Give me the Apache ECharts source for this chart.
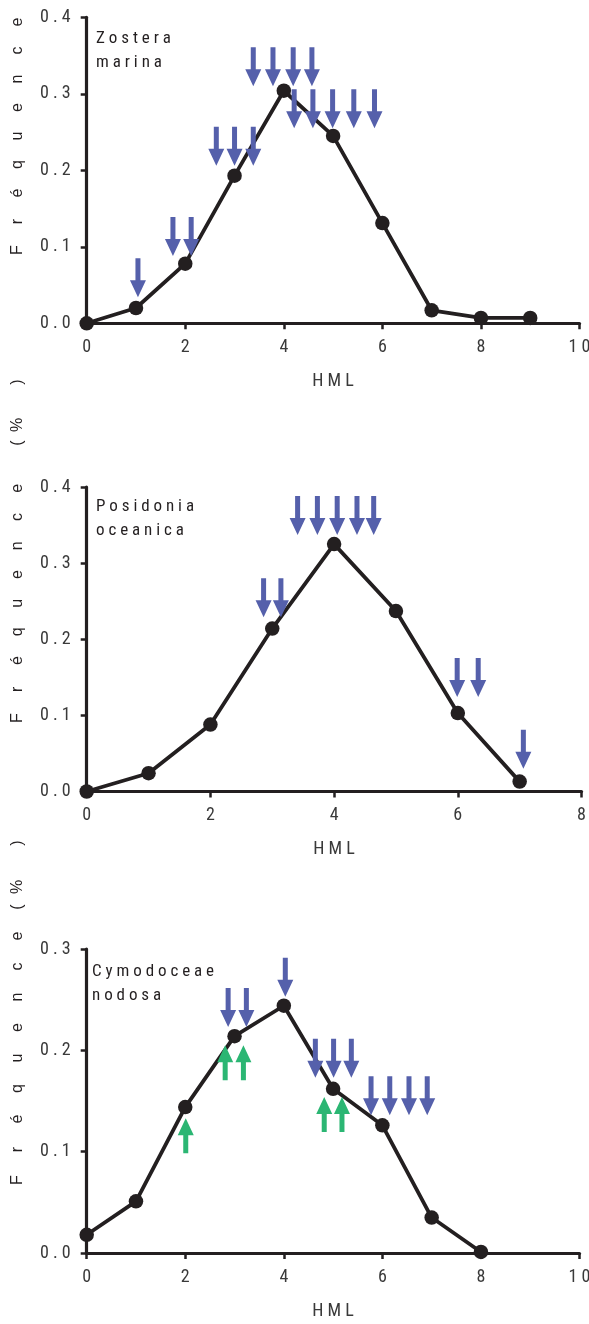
<!DOCTYPE html>
<html><head><meta charset="utf-8">
<script src="https://cdn.jsdelivr.net/npm/echarts@6/dist/echarts.min.js"></script>
<style>html,body{margin:0;padding:0;background:#fff}#c{width:589px;height:1324px}</style>
</head><body><div id="c"></div>
<script>
// ---- data ----
const hmlZostera = [0,1,2,3,4,5,6,7,8,9];
const freqZostera = [0.0,0.020,0.078,0.193,0.304,0.245,0.131,0.017,0.007,0.007];
const downZostera = [[1.04,0.034],[1.75,0.088],[2.12,0.088],[2.63,0.206],[3.00,0.206],[3.38,0.206],
  [3.38,0.310],[3.78,0.310],[4.19,0.310],[4.57,0.310],
  [4.21,0.255],[4.59,0.255],[4.99,0.255],[5.42,0.255],[5.84,0.255]];

const hmlPosidonia = [0,1,2,3,4,5,6,7];
const freqPosidonia = [0.0,0.024,0.088,0.214,0.325,0.237,0.103,0.013];
const downPosidonia = [[3.41,0.337],[3.73,0.337],[4.05,0.337],[4.37,0.337],[4.64,0.337],
  [2.86,0.229],[3.14,0.229],[5.99,0.124],[6.33,0.124],[7.06,0.030]];

const hmlCymodocea = [0,1,2,3,4,5,6,7,8];
const freqCymodocea = [0.018,0.051,0.144,0.214,0.244,0.162,0.126,0.035,0.001];
const downCymodocea = [[4.03,0.253],[2.87,0.223],[3.24,0.223],[4.64,0.173],[5.01,0.173],[5.37,0.173],
  [5.77,0.136],[6.15,0.136],[6.54,0.136],[6.91,0.136]];
const upCymodocea = [[2.01,0.133],[2.81,0.205],[3.18,0.205],[4.82,0.154],[5.18,0.154]];

const speciesNames = [['Zostera','marina'],['Posidonia','oceanica'],['Cymodoceae','nodosa']];
const xMax = [10, 8, 10];
const yMax = [0.4, 0.4, 0.3];
const xTickStep = 2, yTickStep = 0.1;
const xName = 'HML';
const yNameMain = 'Fréquence';
const yNameUnit = '(%)';

// ---- styles ----
const INK = '#231f20', TXT = '#3a3a3a', BLUE = '#5560ab', GREEN = '#2bb673';
const NARROW = "'Liberation Sans Narrow','Arial Narrow','Roboto Condensed','Noto Sans Condensed','Open Sans Condensed','DejaVu Sans Condensed',sans-serif";
const spaced = s => String(s).split('').join(' ');

const grids = [
  {left: 86.7, right: 9.5, top: 17.3, height: 306, outerBoundsMode:'none', containLabel:false},
  {left: 86.7, right: 7.5, top: 487, height: 304.5, outerBoundsMode:'none', containLabel:false},
  {left: 86.7, right: 9.5, top: 949, height: 304, outerBoundsMode:'none', containLabel:false}
];

function xAxisOf(i){
  return {gridIndex:i, type:'value', min:0, max:xMax[i], interval:xTickStep,
    name: spaced(xName), nameLocation:'middle', nameGap:49,
    nameTextStyle:{fontFamily:NARROW, fontSize:18, color:TXT},
    axisLine:{onZero:false, lineStyle:{color:INK, width:3.2}},
    axisTick:{length:6, lineStyle:{color:INK, width:2.5}},
    axisLabel:{fontFamily:NARROW, fontSize:18, color:TXT, margin:15, formatter:v=>spaced(v)},
    splitLine:{show:false}};
}
function yAxisOf(i){
  return {gridIndex:i, type:'value', min:0, max:yMax[i], interval:yTickStep,
    axisLine:{onZero:false, lineStyle:{color:INK, width:3.2}},
    axisTick:{length:6, lineStyle:{color:INK, width:2.5}},
    axisLabel:{fontFamily:NARROW, fontSize:18, color:TXT, margin:16, formatter:v=>spaced(v.toFixed(1))},
    splitLine:{show:false}};
}

function arrowRenderer(color, dir){
  return function(params, api){
    const p = api.coord([api.value(0), api.value(1)]);
    const x = p[0], y = p[1];
    const L = dir<0 ? 39 : 35, H = 17, hw = 8, sw = 2.5;
    const s = dir<0 ? -1 : 1; // down arrow: tail above the tip
    const pts = [[x-sw,y+s*L],[x+sw,y+s*L],[x+sw,y+s*H],[x+hw,y+s*H],[x,y],[x-hw,y+s*H],[x-sw,y+s*H]];
    return {type:'polygon', shape:{points:pts}, style:{fill:color}};
  };
}
function lineSeries(i, xs, ys){
  return {type:'line', xAxisIndex:i, yAxisIndex:i, data: xs.map((x,k)=>[x, ys[k]]),
    symbol:'circle', symbolSize:14.5, clip:false, z:5,
    lineStyle:{color:INK, width:3.8}, itemStyle:{color:INK}};
}
function arrowSeries(i, data, color, dir){
  return {type:'custom', xAxisIndex:i, yAxisIndex:i, data:data, clip:false, z:6,
    encode:{x:0, y:1}, renderItem: arrowRenderer(color, dir)};
}

// side label letters (widely spaced, rotated)
const graphics = [];
const yLabelLayout = [
  {fBottom:250, pitch:28.5, unit:[443,425,382]},
  {fBottom:718, pitch:28.7, unit:[907,887,843]},
  {fBottom:1180, pitch:30.5, unit:null}
];
const SIDEFONT = "16px 'Liberation Sans',Arial,sans-serif";
yLabelLayout.forEach(l=>{
  yNameMain.split('').forEach((ch,k)=>{
    graphics.push({type:'text', x:18, y:l.fBottom - k*l.pitch, rotation:Math.PI/2,
      style:{text:ch, fill:INK, font:SIDEFONT, align:'center', verticalAlign:'middle'}});
  });
  if(l.unit){
    yNameUnit.split('').forEach((ch,k)=>{
      graphics.push({type:'text', x:18, y:l.unit[k], rotation:Math.PI/2,
        style:{text:ch, fill:INK, font:SIDEFONT, align:'center', verticalAlign:'middle'}});
    });
  }
});
const speciesPos = [[96,27],[96,495],[92,960]];
speciesNames.forEach((nm,i)=>{
  graphics.push({type:'text', x:speciesPos[i][0], y:speciesPos[i][1],
    style:{text: nm.map(spaced).join('\n'), fill:INK, font:"17px "+NARROW, lineHeight:24}});
});

const chart = echarts.init(document.getElementById('c'), null, {renderer:'canvas'});
chart.setOption({
  animation:false,
  backgroundColor:'#fff',
  grid: grids,
  xAxis: [0,1,2].map(xAxisOf),
  yAxis: [0,1,2].map(yAxisOf),
  graphic: graphics,
  series: [
    lineSeries(0, hmlZostera, freqZostera),
    arrowSeries(0, downZostera, BLUE, -1),
    lineSeries(1, hmlPosidonia, freqPosidonia),
    arrowSeries(1, downPosidonia, BLUE, -1),
    lineSeries(2, hmlCymodocea, freqCymodocea),
    arrowSeries(2, downCymodocea, BLUE, -1),
    arrowSeries(2, upCymodocea, GREEN, 1)
  ]
});
</script></body></html>
